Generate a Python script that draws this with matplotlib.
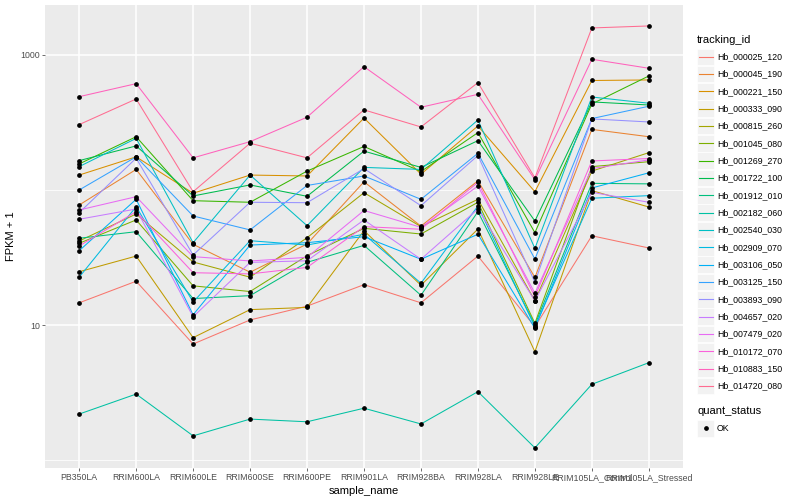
import numpy as np
import matplotlib
matplotlib.use("Agg")
import matplotlib.pyplot as plt
from matplotlib.patches import Rectangle
from matplotlib.lines import Line2D

plt.rcParams['font.family'] = ['Liberation Sans', 'DejaVu Sans']

samples = ["PB350LA", "RRIM600LA", "RRIM600LE", "RRIM600SE", "RRIM600PE", "RRIM901LA",
           "RRIM928BA", "RRIM928LA", "RRIM928LE", "RRIM105LA_Control", "RRIM105LA_Stressed"]

tracking_ids = ["Hb_000025_120", "Hb_000045_190", "Hb_000221_150", "Hb_000333_090",
                "Hb_000815_260", "Hb_001045_080", "Hb_001269_270", "Hb_001722_100",
                "Hb_001912_010", "Hb_002182_060", "Hb_002540_030", "Hb_002909_070",
                "Hb_003106_050", "Hb_003125_150", "Hb_003893_090", "Hb_004657_020",
                "Hb_007479_020", "Hb_010172_070", "Hb_010883_150", "Hb_014720_080"]

# FPKM + 1 values, one list per tracking_id, in sample order
Hb_000025_120 = [14.6, 21.1, 7.23, 10.9, 13.8, 19.9, 14.6, 32.4, 9.7, 45.8, 37.2]
Hb_000045_190 = [77.4, 142, 39.6, 24.6, 39.8, 115, 54.0, 117, 22.5, 281, 248]
Hb_000221_150 = [129, 176, 94.6, 129, 127, 341, 131, 298, 97.1, 647, 653]
Hb_000333_090 = [24.8, 32.4, 8.06, 13.0, 13.5, 50.0, 19.7, 51.4, 6.34, 98.9, 74.8]
Hb_000815_260 = [41.9, 66.4, 29.3, 22.6, 44.3, 95.5, 53.5, 85.3, 15.1, 138, 189]
Hb_001045_080 = [40.3, 60.0, 19.5, 17.7, 32.6, 52.0, 47.2, 81.1, 10.3, 149, 162]
Hb_001269_270 = [156, 248, 83.3, 81.1, 138, 210, 137, 266, 48.3, 434, 699]
Hb_001722_100 = [165, 212, 90.3, 109, 89.8, 194, 147, 232, 58.9, 449, 426]
Hb_001912_010 = [43.9, 49.1, 15.7, 16.5, 29.1, 38.9, 16.6, 69.1, 10.0, 112, 111]
Hb_002182_060 = [2.19, 3.08, 1.51, 2.01, 1.92, 2.42, 1.85, 3.21, 1.23, 3.64, 5.26]
Hb_002540_030 = [149, 241, 40.7, 129, 54.4, 147, 142, 330, 36.9, 488, 439]
Hb_002909_070 = [22.6, 75.2, 14.8, 42.1, 39.1, 47.0, 20.4, 76.1, 9.7, 86.9, 90.8]
Hb_003106_050 = [35.5, 85.3, 11.9, 39.1, 40.7, 45.1, 30.7, 47.0, 9.45, 103.5, 134]
Hb_003125_150 = [100, 176, 64.2, 50.6, 108, 127, 85.3, 187, 30.8, 338, 417]
Hb_003893_090 = [67.9, 172, 33.0, 81.1, 80.5, 144, 76.5, 180, 20.7, 336, 319]
Hb_004657_020 = [60.7, 72.3, 11.5, 29.1, 29.9, 60.0, 30.7, 72.3, 15.1, 96.1, 81.1]
Hb_007479_020 = [71.1, 89.2, 32.1, 29.8, 31.7, 70.5, 52.9, 107, 17.2, 144, 167]
Hb_010172_070 = [38.5, 69.1, 24.4, 23.9, 26.7, 53.5, 51.2, 114, 16.2, 164, 171]
Hb_010883_150 = [491, 613, 173, 228, 346, 819, 410, 511, 119, 929, 797]
Hb_014720_080 = [305, 472, 97.1, 222, 173, 392, 293, 624, 123, 1585, 1640]

series = [Hb_000025_120, Hb_000045_190, Hb_000221_150, Hb_000333_090, Hb_000815_260,
          Hb_001045_080, Hb_001269_270, Hb_001722_100, Hb_001912_010, Hb_002182_060,
          Hb_002540_030, Hb_002909_070, Hb_003106_050, Hb_003125_150, Hb_003893_090,
          Hb_004657_020, Hb_007479_020, Hb_010172_070, Hb_010883_150, Hb_014720_080]

colors = ["#F8766D", "#EA8331", "#D89000", "#C09B00", "#A3A500", "#7CAE00", "#39B600",
          "#00BB4E", "#00BF7D", "#00C1A3", "#00BFC4", "#00BAE0", "#00B0F6", "#35A2FF",
          "#9590FF", "#C77CFF", "#E76BF3", "#FA62DB", "#FF62BC", "#FF6C91"]

W, H = 800, 500
fig = plt.figure(figsize=(8, 5), dpi=100)
L, R, T, B = 45, 683, 5, 468
ax = fig.add_axes([L / W, 1 - B / H, (R - L) / W, (B - T) / H])
ax.set_facecolor('#EBEBEB')
for s in ax.spines.values():
    s.set_visible(False)
ax.set_yscale('log')
ax.set_ylim(10 ** -0.059, 10 ** 3.370)
ax.set_xlim(-0.6, len(samples) - 0.4)

ax.set_yticks([10, 1000])
ax.set_yticklabels(['10', '1000'])
ax.set_yticks([1, 100], minor=True)
ax.yaxis.set_minor_formatter(matplotlib.ticker.NullFormatter())
ax.set_xticks(range(len(samples)))
ax.set_xticklabels(samples)
ax.set_axisbelow(True)
ax.grid(which='major', color='white', lw=1.1)
ax.grid(which='minor', axis='y', color='white', lw=0.55)
ax.tick_params(which='minor', length=0)
ax.tick_params(which='major', length=2.2, width=0.5, color='#333333',
               labelsize=6.3, labelcolor='#4D4D4D', pad=1.5)

x = np.arange(len(samples))
for vals, c in zip(series, colors):
    ax.plot(x, vals, color=c, lw=0.75, zorder=2)
for vals in series:
    ax.plot(x, vals, ls='none', marker='o', ms=2.4, color='black', zorder=3)

ax.set_xlabel('sample_name', fontsize=8, labelpad=3)
ax.set_ylabel('FPKM + 1', fontsize=8, labelpad=3)

# legend drawn in pixel coordinates
lg = fig.add_axes([0, 0, 1, 1])
lg.set_xlim(0, W)
lg.set_ylim(H, 0)
lg.axis('off')
lg.text(697, 40, 'tracking_id', fontsize=8, va='center', ha='left')
y0, dy = 56.7, 17.33
for i, (name, c) in enumerate(zip(tracking_ids, colors)):
    yc = y0 + i * dy
    lg.add_patch(Rectangle((697, yc - 8.2), 17, 16.4, facecolor='#F2F2F2', edgecolor='white', lw=0.5))
    lg.add_line(Line2D([698.5, 712.5], [yc, yc], color=c, lw=0.8))
    lg.text(717, yc, name, fontsize=6.3, va='center', ha='left')
lg.text(697, 411.5, 'quant_status', fontsize=8, va='center', ha='left')
lg.add_patch(Rectangle((697, 428.3 - 8.2), 17, 16.4, facecolor='#F2F2F2', edgecolor='white', lw=0.5))
lg.add_line(Line2D([705.5], [428.3], marker='o', ms=2.4, color='black', ls='none'))
lg.text(717, 428.3, 'OK', fontsize=6.3, va='center', ha='left')

fig.savefig('out.png', dpi=100)
